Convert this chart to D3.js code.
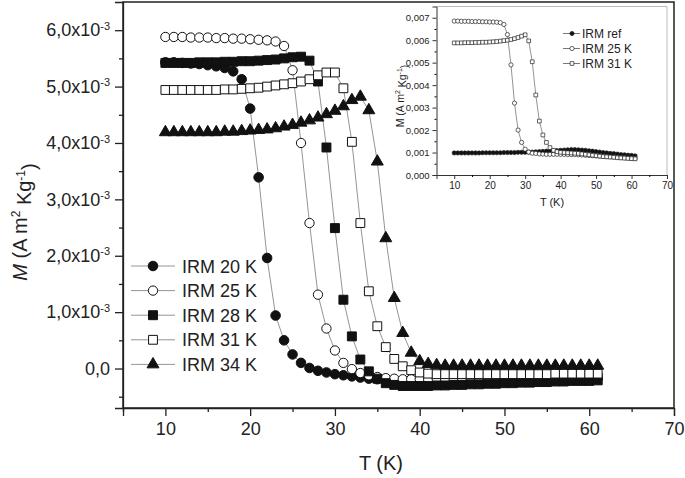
<!DOCTYPE html>
<html>
<head>
<meta charset="utf-8">
<script src="https://cdn.jsdelivr.net/npm/d3@7"></script>
<style>
  body { margin: 0; background: #fff; }
  text { font-family: "Liberation Sans", Arial, sans-serif; fill: #222; }
</style>
</head>
<body>
<div id="chart"></div>
<script>
// temperatures (K), same for every series
var temps = [10, 11, 12, 13, 14, 15, 16, 17, 18, 19, 20, 21, 22, 23, 24, 25, 26, 27, 28, 29,
             30, 31, 32, 33, 34, 35, 36, 37, 38, 39, 40, 41, 42, 43, 44, 45, 46, 47, 48, 49,
             50, 51, 52, 53, 54, 55, 56, 57, 58, 59, 60, 61];

// main panel, M in units of 1e-3 A m2 Kg-1
var irm20 = [5.43, 5.43, 5.42, 5.41, 5.40, 5.38, 5.36, 5.33, 5.27, 5.13, 4.61, 3.39, 1.96, 0.94, 0.50, 0.25, 0.10, 0.01, -0.04, -0.07,
             -0.10, -0.12, -0.14, -0.16, -0.18, -0.19, -0.20, -0.21, -0.21, -0.22, -0.22, -0.22, -0.22, -0.22, -0.22, -0.21, -0.21, -0.21, -0.21, -0.20,
             -0.20, -0.20, -0.20, -0.19, -0.19, -0.19, -0.19, -0.18, -0.18, -0.18, -0.18, -0.18];
var irm25 = [5.88, 5.88, 5.88, 5.87, 5.87, 5.87, 5.86, 5.86, 5.85, 5.85, 5.84, 5.83, 5.82, 5.80, 5.72, 5.29, 4.00, 2.58, 1.31, 0.71,
             0.32, 0.10, -0.01, -0.08, -0.12, -0.15, -0.17, -0.18, -0.19, -0.19, -0.19, -0.19, -0.18, -0.18, -0.18, -0.17, -0.17, -0.17, -0.16, -0.16,
             -0.16, -0.15, -0.15, -0.15, -0.14, -0.14, -0.14, -0.13, -0.13, -0.13, -0.12, -0.12];
var irm28 = [5.42, 5.42, 5.42, 5.42, 5.43, 5.43, 5.43, 5.44, 5.44, 5.45, 5.45, 5.46, 5.47, 5.48, 5.50, 5.52, 5.53, 5.46, 5.09, 3.92,
             2.49, 1.22, 0.57, 0.16, -0.05, -0.18, -0.26, -0.29, -0.31, -0.31, -0.31, -0.31, -0.30, -0.30, -0.29, -0.29, -0.28, -0.28, -0.27, -0.27,
             -0.26, -0.26, -0.25, -0.25, -0.24, -0.24, -0.23, -0.23, -0.22, -0.22, -0.22, -0.21];
var irm31 = [4.94, 4.94, 4.94, 4.94, 4.94, 4.94, 4.94, 4.95, 4.95, 4.96, 4.97, 4.98, 5.00, 5.02, 5.04, 5.06, 5.09, 5.13, 5.20, 5.25,
             5.25, 4.97, 4.02, 2.58, 1.37, 0.75, 0.38, 0.17, 0.04, -0.03, -0.07, -0.09, -0.10, -0.10, -0.10, -0.10, -0.10, -0.10, -0.10, -0.10,
             -0.10, -0.10, -0.10, -0.10, -0.10, -0.10, -0.09, -0.09, -0.09, -0.09, -0.09, -0.09];
var irm34 = [4.19, 4.19, 4.19, 4.19, 4.19, 4.19, 4.19, 4.20, 4.20, 4.21, 4.22, 4.23, 4.24, 4.26, 4.29, 4.32, 4.36, 4.40, 4.45, 4.51,
             4.57, 4.65, 4.76, 4.82, 4.58, 3.67, 2.31, 1.25, 0.63, 0.28, 0.13, 0.08, 0.06, 0.05, 0.05, 0.05, 0.05, 0.05, 0.05, 0.05,
             0.05, 0.05, 0.05, 0.05, 0.05, 0.05, 0.05, 0.05, 0.05, 0.05, 0.05, 0.05];

// inset, M in units of 1e-3
var insetRef = [0.98, 0.98, 0.98, 0.98, 0.98, 0.98, 0.98, 0.98, 0.99, 0.99, 0.99, 0.99, 0.99, 0.99, 1.00, 1.00, 1.00, 1.00, 1.01, 1.01,
                1.01, 1.02, 1.02, 1.03, 1.04, 1.05, 1.06, 1.07, 1.08, 1.09, 1.10, 1.11, 1.12, 1.13, 1.13, 1.12, 1.11, 1.10, 1.08, 1.06,
                1.04, 1.02, 1.00, 0.98, 0.96, 0.95, 0.93, 0.91, 0.90, 0.88, 0.87, 0.85];
var inset25 = [6.85, 6.85, 6.84, 6.84, 6.84, 6.83, 6.83, 6.83, 6.82, 6.82, 6.81, 6.81, 6.80, 6.78, 6.70, 6.25, 4.90, 3.20, 2.00, 1.45,
               1.15, 1.02, 0.97, 0.96, 0.94, 0.93, 0.92, 0.92, 0.92, 0.92, 0.92, 0.92, 0.91, 0.91, 0.91, 0.90, 0.89, 0.88, 0.87, 0.86,
               0.85, 0.84, 0.83, 0.82, 0.81, 0.80, 0.79, 0.78, 0.77, 0.76, 0.75, 0.74];
var inset31 = [5.88, 5.88, 5.88, 5.89, 5.89, 5.89, 5.90, 5.90, 5.91, 5.91, 5.92, 5.93, 5.94, 5.96, 5.98, 6.00, 6.03, 6.07, 6.12, 6.18,
               6.24, 5.97, 5.04, 3.56, 2.40, 1.78, 1.45, 1.22, 1.10, 1.04, 1.01, 1.00, 0.99, 0.98, 0.97, 0.96, 0.94, 0.92, 0.90, 0.88,
               0.86, 0.84, 0.82, 0.81, 0.80, 0.79, 0.77, 0.76, 0.75, 0.74, 0.73, 0.72];

var mainNames = ["IRM 20 K", "IRM 25 K", "IRM 28 K", "IRM 31 K", "IRM 34 K"];
var insetNames = ["IRM ref", "IRM 25 K", "IRM 31 K"];
var xTicks = [10, 20, 30, 40, 50, 60, 70];
var yTicks = [0, 1, 2, 3, 4, 5, 6];
var insetYTicks = [0, 1, 2, 3, 4, 5, 6, 7];

var W = 685, H = 478;
var svg = d3.select("#chart").append("svg")
    .attr("width", W).attr("height", H);
svg.append("rect").attr("width", W).attr("height", H).attr("fill", "#fff");

var x = d3.scaleLinear().domain([5, 70]).range([123, 674]);
var y = d3.scaleLinear().domain([-0.7, 6.5]).range([408, 2]);

// ---- main axes
var gx = svg.append("g").attr("transform", "translate(0,408)")
    .call(d3.axisBottom(x).tickValues(xTicks).tickSize(8).tickPadding(6).tickFormat(d3.format("d")));
gx.selectAll("text").attr("font-size", "18px");
svg.append("g").attr("transform", "translate(0,408)")
    .call(d3.axisBottom(x).tickValues([5, 15, 25, 35, 45, 55, 65]).tickSize(4).tickFormat(""))
    .select(".domain").remove();

var gy = svg.append("g").attr("transform", "translate(123,0)")
    .call(d3.axisLeft(y).tickValues(yTicks).tickSize(8).tickPadding(5));
gy.selectAll(".tick text").attr("font-size", "18px").each(function(d) {
    var t = d3.select(this);
    t.text(null);
    if (d === 0) { t.text("0,0"); return; }
    t.append("tspan").text(d + ",0x10");
    t.append("tspan").attr("dy", "-0.6em").attr("font-size", "11px").text("-3");
});
svg.append("g").attr("transform", "translate(123,0)")
    .call(d3.axisLeft(y).tickValues([-0.5, 0.5, 1.5, 2.5, 3.5, 4.5, 5.5]).tickSize(4).tickFormat(""))
    .select(".domain").remove();
svg.selectAll(".domain, .tick line").attr("stroke", "#222").attr("stroke-width", 1.3);

// frame
svg.append("rect").attr("x", 123).attr("y", 2).attr("width", 551).attr("height", 406)
    .attr("fill", "none").attr("stroke", "#222").attr("stroke-width", 1.5);

// axis titles
var yt = svg.append("text").attr("transform", "translate(27,222) rotate(-90)")
    .attr("text-anchor", "middle").attr("font-size", "20px");
yt.append("tspan").attr("font-style", "italic").text("M");
yt.append("tspan").text(" (A m");
yt.append("tspan").attr("dy", "-0.55em").attr("font-size", "12px").text("2");
yt.append("tspan").attr("dy", "0.55em").text(" Kg");
yt.append("tspan").attr("dy", "-0.55em").attr("font-size", "12px").text("-1");
yt.append("tspan").attr("dy", "0.55em").text(")");

svg.append("text").attr("x", 381).attr("y", 470).attr("text-anchor", "middle")
    .attr("font-size", "20px").text("T (K)");

// ---- main series
var mainSeries = [irm20, irm25, irm28, irm31, irm34];
var markers = [
    { type: d3.symbolCircle, size: 72, fill: "#111" },
    { type: d3.symbolCircle, size: 68, fill: "#fff" },
    { type: d3.symbolSquare, size: 80, fill: "#111" },
    { type: d3.symbolSquare, size: 78, fill: "#fff" },
    { type: d3.symbolTriangle, size: 62, fill: "#111" }
];

var line = d3.line().x(function(d, i) { return x(temps[i]); }).y(function(d) { return y(d); });

mainSeries.forEach(function(s) {
    svg.append("path").datum(s).attr("d", line)
        .attr("fill", "none").attr("stroke", "#888").attr("stroke-width", 0.9);
});

mainSeries.forEach(function(s, k) {
    var m = markers[k];
    svg.append("g").selectAll("path").data(s).enter().append("path")
        .attr("d", d3.symbol().type(m.type).size(m.size))
        .attr("transform", function(d, i) { return "translate(" + x(temps[i]) + "," + y(d) + ")"; })
        .attr("fill", m.fill).attr("stroke", "#111").attr("stroke-width", 1);
});

// legend
mainNames.forEach(function(name, k) {
    var ly = 266 + k * 24.6;
    var m = markers[k];
    svg.append("line").attr("x1", 131).attr("x2", 175).attr("y1", ly).attr("y2", ly)
        .attr("stroke", "#888").attr("stroke-width", 0.9);
    svg.append("path").attr("d", d3.symbol().type(m.type).size(m.size))
        .attr("transform", "translate(153," + ly + ")")
        .attr("fill", m.fill).attr("stroke", "#111");
    svg.append("text").attr("x", 182).attr("y", ly + 6.5).attr("font-size", "18px").text(name);
});

// ---- inset
var ix = d3.scaleLinear().domain([5, 70]).range([436.5, 667]);
var iy = d3.scaleLinear().domain([0, 7.5]).range([175, 6.5]);

// light frame on top / right
svg.append("path").attr("d", "M436.5,6.5H667V175")
    .attr("fill", "none").attr("stroke", "#bbb").attr("stroke-width", 1);

var igx = svg.append("g").attr("transform", "translate(0,175)")
    .call(d3.axisBottom(ix).tickValues(xTicks).tickSize(4).tickPadding(3).tickFormat(d3.format("d")));
igx.selectAll("text").attr("font-size", "10px");
svg.append("g").attr("transform", "translate(0,175)")
    .call(d3.axisBottom(ix).tickValues([15, 25, 35, 45, 55, 65]).tickSize(2).tickFormat(""))
    .select(".domain").remove();

var igy = svg.append("g").attr("transform", "translate(436.5,0)")
    .call(d3.axisLeft(iy).tickValues(insetYTicks).tickSize(4).tickPadding(3)
        .tickFormat(function(d) { return (d / 1000).toFixed(3).replace(".", ","); }));
igy.selectAll("text").attr("font-size", "9.5px");
svg.append("g").attr("transform", "translate(436.5,0)")
    .call(d3.axisLeft(iy).tickValues([0.5, 1.5, 2.5, 3.5, 4.5, 5.5, 6.5]).tickSize(2).tickFormat(""))
    .select(".domain").remove();
igx.selectAll(".domain, .tick line").attr("stroke", "#333").attr("stroke-width", 1);
igy.selectAll(".domain, .tick line").attr("stroke", "#333").attr("stroke-width", 1);

var iyt = svg.append("text").attr("transform", "translate(404,96) rotate(-90)")
    .attr("text-anchor", "middle").attr("font-size", "10.5px");
iyt.append("tspan").text("M (A m");
iyt.append("tspan").attr("dy", "-0.55em").attr("font-size", "7px").text("2");
iyt.append("tspan").attr("dy", "0.55em").text(" Kg");
iyt.append("tspan").attr("dy", "-0.55em").attr("font-size", "7px").text("-1");
iyt.append("tspan").attr("dy", "0.55em").text(")");

svg.append("text").attr("x", 552).attr("y", 206).attr("text-anchor", "middle")
    .attr("font-size", "11px").text("T (K)");

var insetSeries = [insetRef, inset25, inset31];
var insetMarkers = [
    { type: d3.symbolCircle, size: 14, fill: "#111" },
    { type: d3.symbolCircle, size: 14, fill: "#fff" },
    { type: d3.symbolSquare, size: 14, fill: "#fff" }
];
var iline = d3.line().x(function(d, i) { return ix(temps[i]); }).y(function(d) { return iy(d); });

insetSeries.forEach(function(s) {
    svg.append("path").datum(s).attr("d", iline)
        .attr("fill", "none").attr("stroke", "#666").attr("stroke-width", 0.7);
});
insetSeries.forEach(function(s, k) {
    var m = insetMarkers[k];
    svg.append("g").selectAll("path").data(s).enter().append("path")
        .attr("d", d3.symbol().type(m.type).size(m.size))
        .attr("transform", function(d, i) { return "translate(" + ix(temps[i]) + "," + iy(d) + ")"; })
        .attr("fill", m.fill).attr("stroke", "#222").attr("stroke-width", 0.7);
});

insetNames.forEach(function(name, k) {
    var ly = 33.5 + k * 15;
    var m = insetMarkers[k];
    svg.append("line").attr("x1", 563).attr("x2", 580).attr("y1", ly).attr("y2", ly)
        .attr("stroke", "#555").attr("stroke-width", 0.8);
    svg.append("path").attr("d", d3.symbol().type(m.type).size(m.size))
        .attr("transform", "translate(572," + ly + ")")
        .attr("fill", m.fill).attr("stroke", "#222").attr("stroke-width", 0.7);
    svg.append("text").attr("x", 582).attr("y", ly + 4.3).attr("font-size", "12px").text(name);
});
</script>
</body>
</html>
